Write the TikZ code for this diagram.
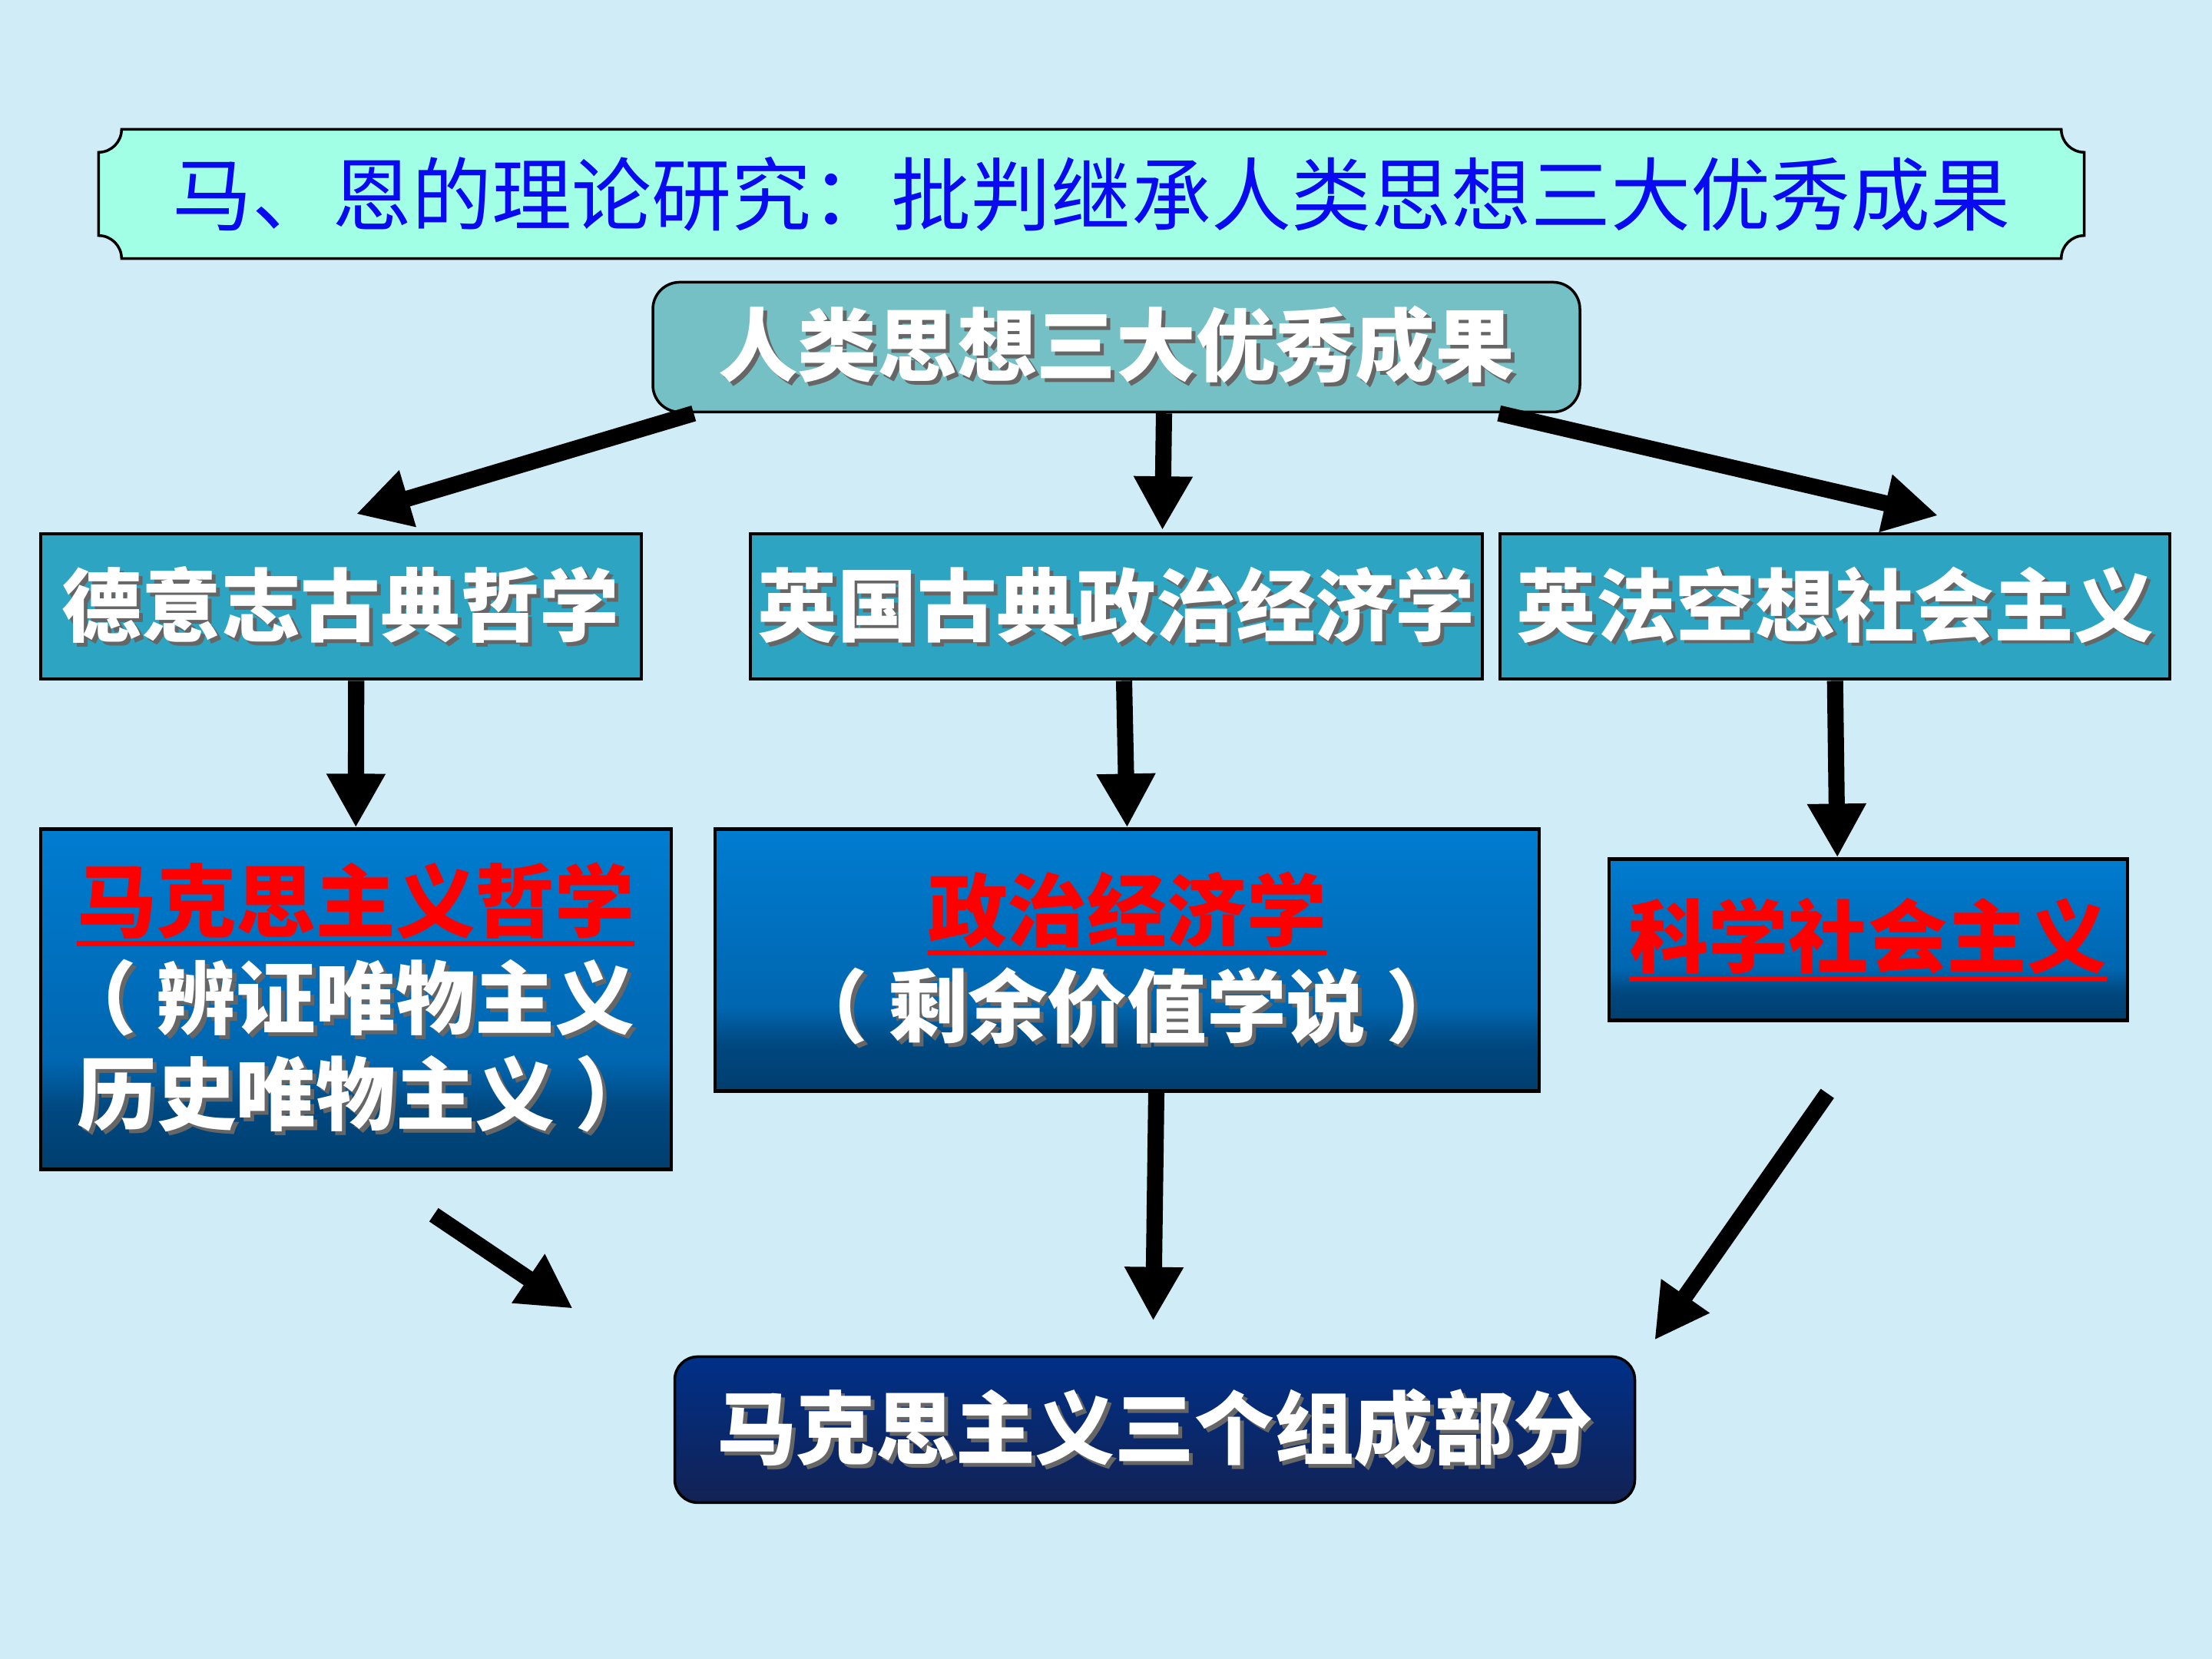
\documentclass[tikz,border=0pt]{standalone}
\usepackage{fontspec}
\newfontfamily\cjk{Noto Sans CJK SC}
\usetikzlibrary{arrows.meta, positioning, backgrounds}

\definecolor{bgblue}{RGB}{208,236,246}
\definecolor{plaquefill}{RGB}{160,255,228}
\definecolor{titleblue}{RGB}{10,10,240}
\definecolor{topteal}{RGB}{116,192,196}
\definecolor{rowteal}{RGB}{44,164,194}
\definecolor{bxtop}{RGB}{0,124,208}
\definecolor{bxmid}{RGB}{0,102,176}
\definecolor{bxdeep}{RGB}{0,72,128}
\definecolor{bxdark}{RGB}{0,62,110}
\definecolor{navytop}{RGB}{0,48,136}
\definecolor{navybot}{RGB}{18,34,84}
\definecolor{redtxt}{RGB}{255,0,0}

\pgfdeclareverticalshading{bluebox}{100bp}{color(0bp)=(bxdark); color(25bp)=(bxdark); color(34bp)=(bxdeep); color(41bp)=(bxmid); color(75bp)=(bxtop); color(100bp)=(bxtop)}
\pgfdeclareverticalshading{navybox}{100bp}{color(0bp)=(navybot); color(25bp)=(navybot); color(75bp)=(navytop); color(100bp)=(navytop)}

% white text with a dark shadow
\newcommand\shd[1]{\makebox[0pt][l]{\kern1.4pt\raisebox{-1.4pt}{\textcolor{black!60}{#1}}}#1}
% thick underline in the current colour
\newcommand\redline[1]{\setbox0\hbox{#1}\makebox[0pt][l]{\rule[-0.19em]{\wd0}{0.07em}}\box0}
% centred full-width brackets
\newcommand\lpar{\kern-0.25em（\kern0.25em}
\newcommand\rpar{\kern0.25em）\kern-0.25em}

\begin{document}
\begin{tikzpicture}[
	titlebox/.style={inner sep=0pt, minimum width=25.84cm, minimum height=1.67cm, text=titleblue, font=\cjk\fontsize{29.6}{34}\selectfont},
	plaque/.style={fill=plaquefill, draw=black, line width=1pt},
	topbox/.style={rectangle, rounded corners=0.35cm, draw=black, line width=1pt, fill=topteal, minimum width=12.07cm, minimum height=1.69cm, inner sep=0pt, text=white, font=\cjk\bfseries\fontsize{29.5}{35.8}\selectfont},
	rowbox/.style={rectangle, draw=black, line width=1.2pt, fill=rowteal, minimum height=1.89cm, inner sep=0pt, text=white, font=\cjk\bfseries\fontsize{29.5}{35.8}\selectfont},
	partbox/.style={rectangle, draw=black, line width=1.2pt, shade, shading=bluebox, inner sep=0pt, align=center, text=white, font=\cjk\bfseries\fontsize{29.5}{35.8}\selectfont},
	basebox/.style={rectangle, rounded corners=0.3cm, draw=black, line width=1pt, shade, shading=navybox, minimum width=12.5cm, minimum height=1.9cm, inner sep=0pt, text=white, font=\cjk\bfseries\fontsize{29.5}{35.8}\selectfont},
	arrow/.style={-{Triangle[length=7mm, width=7.2mm]}, line width=6pt}
	]
	\useasboundingbox (0,0) rectangle (28.8,-21.6);
	
	\node[titlebox] (title) at (14.21,-2.525) {马、恩的理论研究：批判继承人类思想三大优秀成果};
	\node[topbox, below=0.29cm of title, xshift=0.325cm] (top) {\shd{人类思想三大优秀成果}};
	
	\node[rowbox, minimum width=9.53cm, below=1.55cm of top] (brit) {\shd{英国古典政治经济学}};
	\node[rowbox, minimum width=7.82cm, left=1.38cm of brit] (ger) {\shd{德意志古典哲学}};
	\node[rowbox, minimum width=8.72cm, right=0.19cm of brit] (utop) {\shd{英法空想社会主义}};
	
	\node[partbox, minimum width=10.73cm, minimum height=3.41cm, below=1.91cm of brit, xshift=0.14cm] (pol) {\textcolor{redtxt}{\redline{政治经济学}}\\\shd{\lpar 剩余价值学说\rpar}};
	\node[partbox, minimum width=8.21cm, minimum height=4.43cm, below=1.91cm of ger, xshift=0.195cm] (phil) {\textcolor{redtxt}{\redline{马克思主义哲学}}\\\shd{\lpar 辨证唯物主义}\\\shd{历史唯物主义\rpar}};
	\node[partbox, minimum width=6.75cm, minimum height=2.1cm, below=2.3cm of utop, xshift=0.43cm] (sci) {\textcolor{redtxt}{\redline{科学社会主义}}};
	
	\node[basebox, below=3.42cm of pol, xshift=0.36cm] (parts) {\shd{马克思主义三个组成部分}};
	
	\coordinate (philtail) at ([xshift=1.015cm, yshift=-0.57cm]phil.south);
	\coordinate (partsin) at ([xshift=-1.31cm, yshift=0.61cm]parts.north west);
	\coordinate (scitail) at ([xshift=-0.53cm, yshift=-0.93cm]sci.south);
	
	\draw[arrow] ([xshift=0.55cm]top.south west) -- ([xshift=0.2cm, yshift=0.24cm]ger.north);
	\draw[arrow] ([xshift=0.62cm]top.south) -- ([xshift=0.6cm, yshift=0.03cm]brit.north);
	\draw[arrow] ([xshift=-1.07cm]top.south east) -- ([xshift=1.34cm, yshift=0.22cm]utop.north);
	
	\draw[arrow] ([xshift=0.2cm]ger.south) -- (phil.north);
	\draw[arrow] ([xshift=0.1cm]brit.south) -- (pol.north);
	\draw[arrow] (utop.south) -- ([xshift=-0.4cm]sci.north);
	
	\draw[arrow] (philtail) -- (partsin);
	\draw[arrow] ([xshift=0.38cm]pol.south) -- ([xshift=-0.02cm, yshift=0.45cm]parts.north);
	\draw[arrow] (scitail) -- ([xshift=0.24cm, yshift=0.2cm]parts.north east);
	
	\begin{scope}[on background layer]
		\fill[bgblue] (0,0) rectangle (28.8,-21.6);
		\draw[plaque] ([xshift=0.3cm]title.north west) -- ([xshift=-0.3cm]title.north east)
			arc[start angle=180, end angle=270, radius=0.3cm] -- ([yshift=0.3cm]title.south east)
			arc[start angle=90, end angle=180, radius=0.3cm] -- ([xshift=0.3cm]title.south west)
			arc[start angle=0, end angle=90, radius=0.3cm] -- ([yshift=-0.3cm]title.north west)
			arc[start angle=270, end angle=360, radius=0.3cm] -- cycle;
	\end{scope}
	
\end{tikzpicture}
\end{document}
